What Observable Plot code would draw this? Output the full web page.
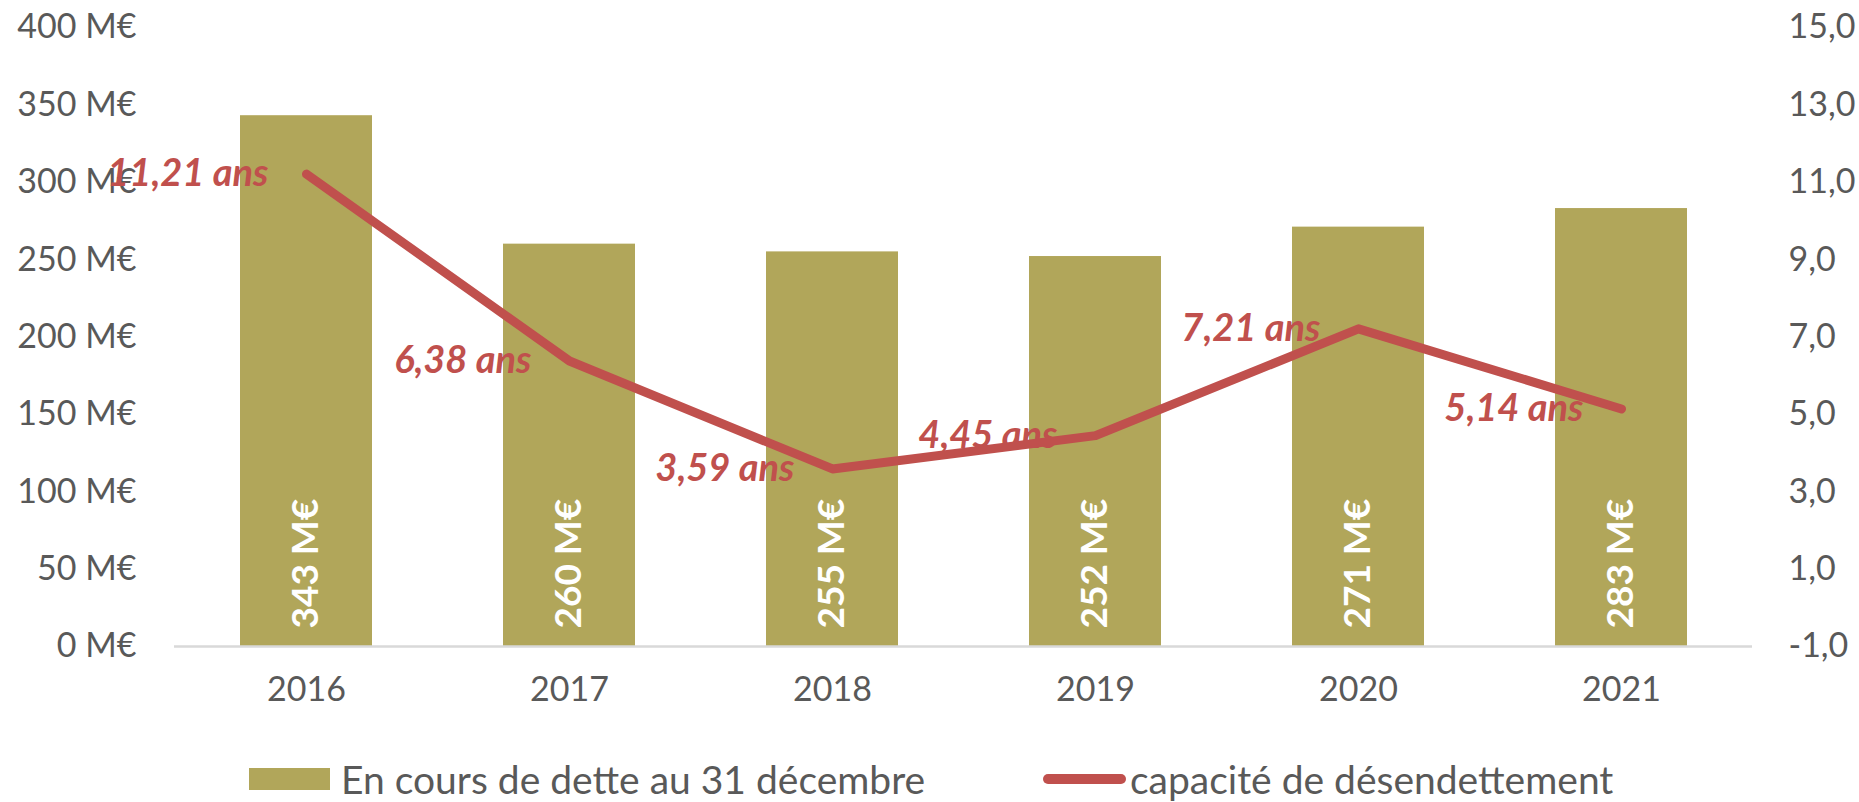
<!DOCTYPE html>
<html>
<head>
<meta charset="utf-8">
<script src="https://cdn.jsdelivr.net/npm/d3@7"></script>
<script src="https://cdn.jsdelivr.net/npm/@observablehq/plot@0.6"></script>
<style>
  html, body { margin: 0; padding: 0; background: white; }
  #chart svg { display: block; }
  .legend { position: relative; height: 44px; margin-top: 37px; font-family: Lato, sans-serif; font-size: 39px; color: #595959; line-height: 44px; }
  .item { position: absolute; top: 0; height: 44px; display: flex; align-items: center; white-space: nowrap; }
  .sw-bar { width: 81px; height: 22px; background: #B1A65A; margin-right: 11px; }
  .sw-line { width: 83px; height: 10px; background: #C0504D; border-radius: 5px; margin-right: 4px; }
</style>
</head>
<body>
<div id="chart"></div>
<div class="legend">
  <div class="item" style="left:249px"><div class="sw-bar"></div><span>En cours de dette au 31 décembre</span></div>
  <div class="item" style="left:1043px"><div class="sw-line"></div><span>capacité de désendettement</span></div>
</div>
<script>
const years = ["2016", "2017", "2018", "2019", "2020", "2021"];
const debt = [343, 260, 255, 252, 271, 283];
const ratio = [11.21, 6.38, 3.59, 4.45, 7.21, 5.14];
const leftTicks = [0, 50, 100, 150, 200, 250, 300, 350, 400];
const rightTicks = [-1, 1, 3, 5, 7, 9, 11, 13, 15];
const debtDomain = [0, 400];
const ratioDomain = [-1, 15];

const toLeft = v => debtDomain[0] + (v - ratioDomain[0]) / (ratioDomain[1] - ratioDomain[0]) * (debtDomain[1] - debtDomain[0]);
const toRight = d => ratioDomain[0] + (d - debtDomain[0]) / (debtDomain[1] - debtDomain[0]) * (ratioDomain[1] - ratioDomain[0]);
const fmt1 = v => v.toFixed(1).replace(".", ",");
const fmt2 = v => v.toFixed(2).replace(".", ",");

const data = years.map((year, i) => ({year, debt: debt[i], ratio: ratio[i]}));

const chart = Plot.plot({
  width: 1859,
  height: 720,
  marginLeft: 174,
  marginRight: 107,
  marginTop: 27,
  marginBottom: 74,
  style: {fontFamily: "Lato, sans-serif", fontSize: "34px", color: "#595959", background: "white"},
  x: {domain: years, paddingInner: 0.5, paddingOuter: 0.25, axis: null},
  y: {domain: debtDomain, axis: null},
  marks: [
    Plot.axisY({ticks: leftTicks, tickFormat: d => `${d} M€`, anchor: "left", tickSize: 0, tickPadding: 38, label: null, fontSize: 34}),
    Plot.axisY({ticks: rightTicks.map(toLeft), tickFormat: d => fmt1(toRight(d)), anchor: "right", tickSize: 0, tickPadding: 36, label: null, fontSize: 34}),
    Plot.axisX({tickSize: 0, tickPadding: 30, label: null, fontSize: 34}),
    Plot.barY(data, {x: "year", y: "debt", fill: "#B1A65A"}),
    Plot.ruleY([0], {stroke: "#D9D9D9", strokeWidth: 2.5}),
    Plot.text(data, {x: "year", y: 0, text: d => `${d.debt} M€`, rotate: -90, textAnchor: "start", dy: -18, fill: "white", fontWeight: "bold", fontSize: 37}),
    Plot.line(data, {x: "year", y: d => toLeft(d.ratio), stroke: "#C0504D", strokeWidth: 9, strokeLinecap: "round", strokeLinejoin: "round"}),
    Plot.text(data, {x: "year", y: d => toLeft(d.ratio), text: d => `${fmt2(d.ratio)} ans`, textAnchor: "end", dx: -38, fill: "#C0504D", fontWeight: "bold", fontStyle: "italic", fontSize: 38})
  ]
});
document.getElementById("chart").appendChild(chart);
</script>
</body>
</html>
